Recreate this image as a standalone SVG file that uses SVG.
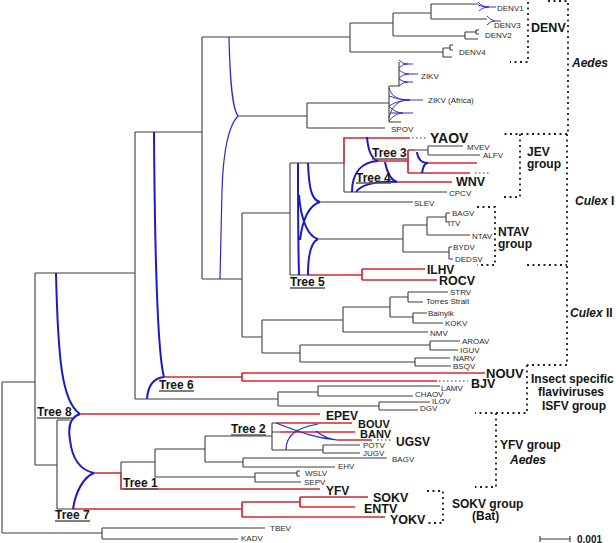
<svg xmlns="http://www.w3.org/2000/svg" width="616" height="543" viewBox="0 0 616 543">
<style>
text{font-family:"Liberation Sans",Arial,sans-serif;fill:#151515}
.s{font-size:8px;fill:#2a2a2a}
.b{font-size:12.5px;font-weight:bold}
.g{font-size:12px;font-weight:bold}
.t{font-size:12px;font-weight:bold}
.i{font-style:italic}
.k{fill:none;stroke:#3c3c3c;stroke-width:1.1}
.r{fill:none;stroke:#d8262f;stroke-width:1.7}
.d{fill:none;stroke:#333;stroke-width:1.1;stroke-dasharray:1.5 2.5}
.bd{fill:none;stroke:#222;stroke-width:1.8;stroke-dasharray:2 3.5}
.bl{fill:none;stroke:#1a1ac8;stroke-width:2}
.bt{fill:none;stroke:#2a2ad0;stroke-width:1.2}
.tb{fill:none;stroke:#3434d4;stroke-width:1}
.u{stroke:#555;stroke-width:1.3}
</style>
<g id="connectors">
<path class="k" d="M2 382V533M2 382H35M2 533H102M102 528V539M102 528H265M102 539H238
M35 273V465M35 273H135M35 465H57
M135 132V399M135 132H202M135 399H278
M202 37V279M202 37H350M202 279H242M238 116H307
M350 23V52M350 23H393M350 52H443
M393 13V36M393 13H431M393 36H465
M431 4V19M431 4H478M431 19H487
M465 32V39M465 32H476M465 39H478M476 30V34M476 30H479M476 34H479
M443 48V57M443 48H450M443 57H452M450 45V50M450 45H453M450 50H453
M307 103V128M307 103H389M307 128H385M389 86V122M389 86H399V62M389 122H401M390 113H403
M242 213V337M242 213H290M242 337H262
M290 163V275M290 163H344M290 275H308
M344 163V192M344 192H447
M320 202H413
M318 239H403M403 225V252M403 225H427M427 217V235M427 217H446M446 213V222M446 213H450M446 222H449M427 235H470M403 252H449M449 247V259M449 247H452M449 259H453
M415 150H428M428 146V155M428 146H463M428 155H480
M262 320V353M262 320H343M262 353H300
M343 307V332M343 307H390M343 332H428
M390 297V317M390 297H408M390 317H413
M408 292V302M408 292H448M408 302H423
M413 313V323M413 313H427M413 323H443
M300 345V362M300 345H430M300 362H415
M430 341V350M430 341H460M430 350H458
M415 358V366M415 358H450M415 366H451
M278 392V406M278 392H318M278 406H379M318 386V396M318 386H440M318 396H413M379 402V410M379 402H430M379 410H418
M57 420V509M57 420H70M57 509H73
M121 462V473M121 462H155
M155 449V477M155 449H205M155 477H255
M205 436V462M205 436H272M205 462H243
M272 423V450M272 423H277M272 432H280M272 450H323M323 445V453M323 445H360M323 453H360
M243 458V467M243 458H387M243 467H335
M255 473V482M255 473H297M255 482H301M297 471V476M297 471H300M297 476H300"/>
<path class="r" d="M344 163V138H410
M408 150V173M408 150H415M378 161H408M428 163H477M408 173H470
M397 182H452
M308 275H362M362 269V280M362 269H425M362 280H437
M163 377H242M242 373V381M242 373H485M242 381H437
M80 414H320
M94 473H121V489H320
M73 509H242M242 502V517M242 502H300M300 497V507M300 497H368M300 507H355M242 517H385
M277 423H352M280 432H355M337 440H372"/>
<path class="d" d="M412 138H427M475 173H490M439 381H468M377 440H393"/>
<path class="bd" d="M528 2V62H510M548 1H568V134H502M520 134V197H502M567 134V365H527M527 265H567M477 207H495V265H477M527 365V413H475M496 413V487H475M427 491H443V523H427"/>
<path class="bl" d="M56 273C58 360 62 402 80 414M80 414C70 417 68 428 70 440C72 458 80 470 94 473
M73 509C76 490 84 477 94 473
M154 132C155 280 158 355 164 377M147 399C148 385 154 378 164 377
M298 163C298 200 298 240 299 275M308 163C309 190 312 200 320 202M320 202C310 205 303 216 300 240M299 195C301 222 309 237 318 239M318 239C311 242 308 255 308 275
M367 137C368 150 372 159 378 161M352 192C352 172 362 162 378 161
M385 162C387 172 391 180 397 182M356 192C362 184 378 181 397 182
M417 152C418 160 422 163 428 163M422 173C423 166 425 163 428 163"/>
<path class="bt" d="M229 37C230 80 232 108 238 116M238 116C226 128 223 160 222 190L220 279
M276 423C300 432 315 438 337 440M286 450C286 436 295 428 318 424M316 431C322 436 328 439 337 440"/>
<path class="tb" d="M478 2Q482 7 489 7M479 11Q482 7 489 7M478 5Q483 7 489 7M489 7H496
M487 16Q490 20 495 21M487 25Q490 21 495 21M495 21H501
M399 60Q402 64 408 64M399 68Q402 64 408 64M408 64H413
M399 70Q403 74 409 74M399 78Q403 74 409 74M409 74H418
M399 79Q403 82 408 82M399 86Q403 82 408 82M408 82H413
M389 88C392 98 400 100 410 100M389 96Q398 100 410 100M389 106Q398 100 410 100M389 118C392 104 400 100 410 100M410 100H423
M389 106Q395 113 403 113M389 121Q395 113 403 113M403 113H413"/>
<path class="k" d="M540 539H570M540 536V542M570 536V542"/>
</g>
<g id="leaves">
<text class="s" x="497" y="11">DENV1</text>
<text class="s" x="494" y="28">DENV3</text>
<text class="s" x="485" y="38">DENV2</text>
<text class="s" x="459" y="55">DENV4</text>
<text class="s" x="421" y="79">ZIKV</text>
<text class="s" x="428" y="103">ZIKV (Africa)</text>
<text class="s" x="391" y="132">SPOV</text>
<text class="s" x="467" y="150">MVEV</text>
<text class="s" x="483" y="158">ALFV</text>
<text class="s" x="449" y="196">CPCV</text>
<text class="s" x="414" y="206">SLEV</text>
<text class="s" x="452" y="216">BAGV</text>
<text class="s" x="448" y="226">ITV</text>
<text class="s" x="472" y="239">NTAV</text>
<text class="s" x="453" y="250">BYDV</text>
<text class="s" x="455" y="262">DEDSV</text>
<text class="s" x="450" y="295">STRV</text>
<text class="s" x="426" y="304">Torres Strait</text>
<text class="s" x="428" y="316">Bainyik</text>
<text class="s" x="445" y="326">KOKV</text>
<text class="s" x="430" y="336">NMV</text>
<text class="s" x="462" y="344">AROAV</text>
<text class="s" x="460" y="353">IGUV</text>
<text class="s" x="453" y="361">NARV</text>
<text class="s" x="453" y="369">BSQV</text>
<text class="s" x="441" y="391">LAMV</text>
<text class="s" x="415" y="397">CHAOV</text>
<text class="s" x="432" y="404">ILOV</text>
<text class="s" x="420" y="411">DGV</text>
<text class="s" x="363" y="448">POTV</text>
<text class="s" x="363" y="456">JUGV</text>
<text class="s" x="392" y="462">BAGV</text>
<text class="s" x="338" y="469">EHV</text>
<text class="s" x="305" y="476">WSLV</text>
<text class="s" x="304" y="485">SEPV</text>
<text class="s" x="270" y="531">TBEV</text>
<text class="s" x="241" y="541">KADV</text>
</g>
<g id="highlighted">
<text class="b" x="531" y="32">DENV</text>
<text class="b" x="430" y="143" style="font-size:14px">YAOV</text>
<text class="b" x="456" y="186">WNV</text>
<text class="b" x="427" y="273.5" style="font-size:12px">ILHV</text>
<text class="b" x="439" y="285">ROCV</text>
<text class="b" x="486" y="378" style="font-size:13px">NOUV</text>
<text class="b" x="471" y="388">BJV</text>
<text class="b" x="326" y="420" style="font-size:12px">EPEV</text>
<text class="b" x="358" y="428" style="font-size:11px">BOUV</text>
<text class="b" x="360" y="437.5" style="font-size:11px">BANV</text>
<text class="b" x="396" y="446" style="font-size:12px">UGSV</text>
<text class="b" x="326" y="495" style="font-size:12px">YFV</text>
<text class="b" x="373" y="502">SOKV</text>
<text class="b" x="364" y="513">ENTV</text>
<text class="b" x="390" y="523.5">YOKV</text>
</g>
<g id="groups">
<text class="g i" x="572" y="66.5">Aedes</text>
<text class="g" x="527" y="155.5">JEV</text>
<text class="g" x="527" y="167.5">group</text>
<text class="g" x="575" y="205"><tspan class="i">Culex</tspan> I</text>
<text class="g" x="498" y="236">NTAV</text>
<text class="g" x="498" y="248">group</text>
<text class="g" x="570" y="316.5"><tspan class="i">Culex</tspan> II</text>
<text class="g" x="531" y="382.5">Insect specific</text>
<text class="g" x="538" y="396">flaviviruses</text>
<text class="g" x="542" y="409.5">ISFV group</text>
<text class="g" x="500" y="448.5">YFV group</text>
<text class="g i" x="510" y="464">Aedes</text>
<text class="g" x="452" y="507.5">SOKV group</text>
<text class="g" x="472" y="520">(Bat)</text>
</g>
<g id="trees">
<text class="t" x="123" y="487">Tree 1</text><line class="u" x1="123" y1="489" x2="158" y2="489"/>
<text class="t" x="231" y="433">Tree 2</text><line class="u" x1="231" y1="435" x2="266" y2="435"/>
<text class="t" x="372" y="157">Tree 3</text><line class="u" x1="372" y1="159" x2="407" y2="159"/>
<text class="t" x="356" y="181.5">Tree 4</text><line class="u" x1="356" y1="183" x2="391" y2="183"/>
<text class="t" x="290" y="286">Tree 5</text><line class="u" x1="290" y1="288" x2="325" y2="288"/>
<text class="t" x="159" y="389">Tree 6</text><line class="u" x1="159" y1="391" x2="194" y2="391"/>
<text class="t" x="55" y="519">Tree 7</text><line class="u" x1="55" y1="521" x2="90" y2="521"/>
<text class="t" x="37" y="416">Tree 8</text><line class="u" x1="37" y1="418" x2="72" y2="418"/>
</g>
<g id="scale">
<text x="577" y="542.5" style="font-size:10px;font-weight:bold">0.001</text>
</g>
</svg>
